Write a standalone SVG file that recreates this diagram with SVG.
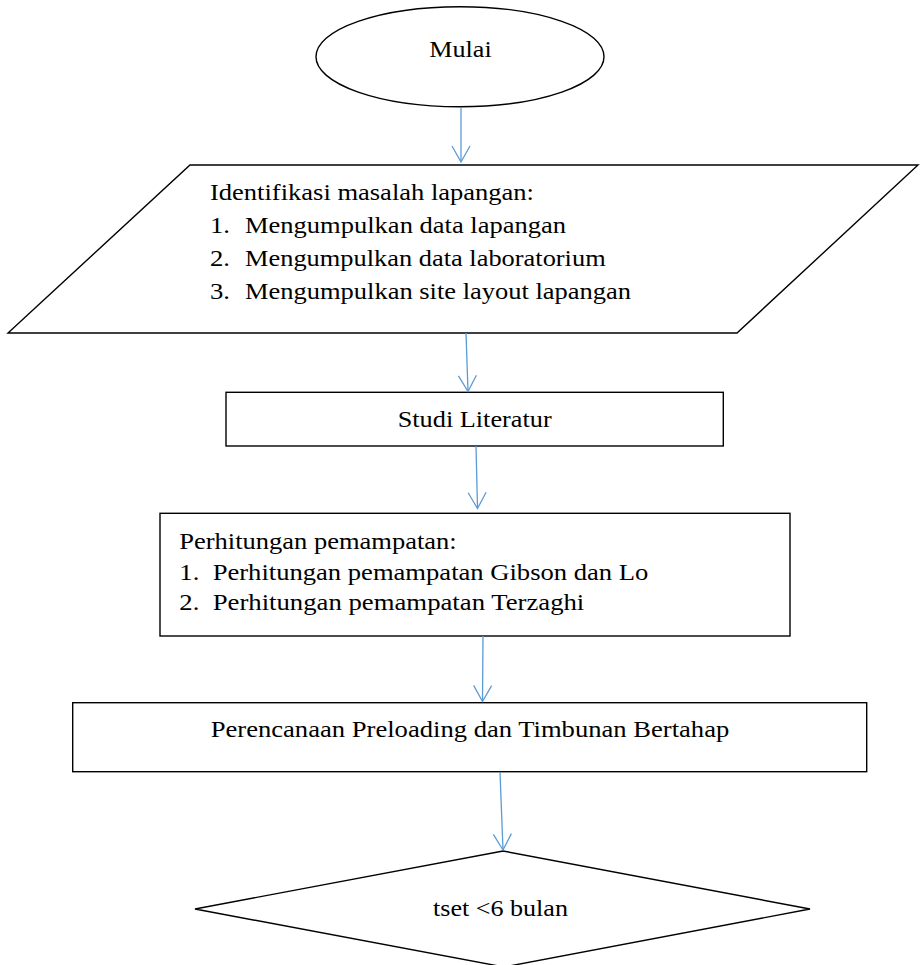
<svg xmlns="http://www.w3.org/2000/svg" width="922" height="965" viewBox="0 0 922 965">
<style>
.shape{fill:#fff;stroke:#000;stroke-width:1.4}
.t{font-family:"Liberation Serif","Times New Roman",serif;font-size:23px;fill:#000}
.c{text-anchor:middle}
.conn{fill:none;stroke:#5B9BD5;stroke-width:1.3}
</style>
<defs>
<marker id="arr" viewBox="0 0 20 20" refX="18" refY="10" markerWidth="20" markerHeight="20" markerUnits="userSpaceOnUse" orient="auto">
<path d="M2,1 L18,10 L2,19" fill="none" stroke="#5B9BD5" stroke-width="1.3"/>
</marker>
</defs>
<rect width="922" height="965" fill="#fff"/>
<g id="start">
<ellipse class="shape" cx="460" cy="56.7" rx="144" ry="50"/>
<text class="t" x="429.3" y="57" textLength="62.4" lengthAdjust="spacingAndGlyphs">Mulai</text>
</g>
<g id="identifikasi">
<polygon class="shape" points="190,165 918,165 737,333 8,333"/>
<text class="t" x="210" y="200" textLength="324" lengthAdjust="spacingAndGlyphs">Identifikasi masalah lapangan:</text>
<text class="t" x="210" y="233" textLength="20" lengthAdjust="spacingAndGlyphs">1.</text>
<text class="t" x="245" y="233" textLength="321" lengthAdjust="spacingAndGlyphs">Mengumpulkan data lapangan</text>
<text class="t" x="210" y="266" textLength="20" lengthAdjust="spacingAndGlyphs">2.</text>
<text class="t" x="245" y="266" textLength="360.7" lengthAdjust="spacingAndGlyphs">Mengumpulkan data laboratorium</text>
<text class="t" x="210" y="299" textLength="20" lengthAdjust="spacingAndGlyphs">3.</text>
<text class="t" x="245" y="299" textLength="386" lengthAdjust="spacingAndGlyphs">Mengumpulkan site layout lapangan</text>
</g>
<g id="studi">
<rect class="shape" x="226" y="392.3" width="497.3" height="53.7"/>
<text class="t" x="397.7" y="427" textLength="154" lengthAdjust="spacingAndGlyphs">Studi Literatur</text>
</g>
<g id="perhitungan">
<rect class="shape" x="160" y="513.3" width="630" height="122.7"/>
<text class="t" x="179.3" y="549.3" textLength="277.4" lengthAdjust="spacingAndGlyphs">Perhitungan pemampatan:</text>
<text class="t" x="179.3" y="579.5" textLength="20" lengthAdjust="spacingAndGlyphs">1.</text>
<text class="t" x="212.7" y="579.5" textLength="435.6" lengthAdjust="spacingAndGlyphs">Perhitungan pemampatan Gibson dan Lo</text>
<text class="t" x="179.3" y="610" textLength="20" lengthAdjust="spacingAndGlyphs">2.</text>
<text class="t" x="212.7" y="610" textLength="371.6" lengthAdjust="spacingAndGlyphs">Perhitungan pemampatan Terzaghi</text>
</g>
<g id="perencanaan">
<rect class="shape" x="72.7" y="702.7" width="794" height="69"/>
<text class="t" x="210.7" y="736.5" textLength="518.6" lengthAdjust="spacingAndGlyphs">Perencanaan Preloading dan Timbunan Bertahap</text>
</g>
<g id="decision">
<polygon class="shape" points="503,851 810,909 504,967 195,909"/>
<text class="t" x="433" y="916" textLength="135" lengthAdjust="spacingAndGlyphs">tset &lt;6 bulan</text>
</g>
<g id="connectors">
<line class="conn" x1="461" y1="107" x2="461" y2="162" marker-end="url(#arr)"/>
<line class="conn" x1="466" y1="333" x2="468" y2="391.5" marker-end="url(#arr)"/>
<line class="conn" x1="476" y1="446" x2="477.5" y2="508.5" marker-end="url(#arr)"/>
<line class="conn" x1="483" y1="636" x2="482.5" y2="701.5" marker-end="url(#arr)"/>
<line class="conn" x1="500" y1="772" x2="503" y2="850" marker-end="url(#arr)"/>
</g>
</svg>
